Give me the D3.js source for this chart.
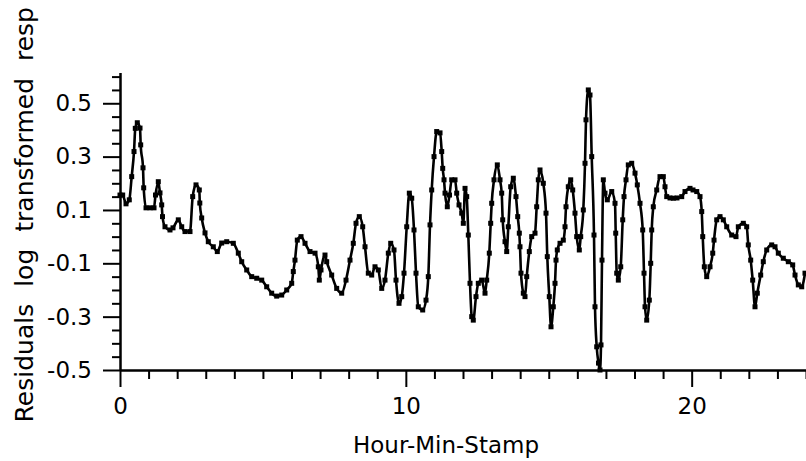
<!DOCTYPE html>
<html>
<head>
<meta charset="utf-8">
<script src="https://cdn.jsdelivr.net/npm/d3@7"></script>
<style>
  body { margin: 0; background: #fff; }
  text { font-family: "DejaVu Sans", sans-serif; fill: #000; }
</style>
</head>
<body>
<svg id="chart" width="806" height="461"></svg>
<script>
// Hour-Min-Stamp (hours) and residuals
var hours = [0,0.094,0.210,0.325,0.409,0.490,0.535,0.605,0.700,0.724,0.805,0.829,0.910,1.050,1.190,1.242,1.340,1.399,1.459,1.487,
  1.574,1.749,1.854,2.040,2.159,2.274,2.449,2.543,2.659,2.774,2.792,2.858,2.974,3.089,3.264,3.404,3.558,3.733,
  3.964,4.139,4.258,4.433,4.608,4.783,4.958,5.132,5.307,5.482,5.657,5.832,6.007,6.063,6.122,6.203,6.333,6.473,6.648,6.823,
  6.938,6.973,7.032,7.172,7.231,7.406,7.581,
  7.756,7.907,8.047,8.162,8.257,8.372,8.491,8.572,8.687,8.806,8.921,9.037,9.156,9.271,9.387,9.471,9.586,9.656,9.761,9.856,
  9.936,10.031,10.122,10.206,10.286,10.356,10.436,10.590,10.706,10.786,10.846,10.905,10.986,11.080,11.196,
  11.255,11.290,11.336,11.371,11.451,11.528,11.605,11.721,11.780,11.861,11.955,12.011,12.071,12.130,12.186,12.245,12.305,12.360,
  12.455,12.535,12.654,12.770,12.829,12.920,12.969,13.004,13.085,13.200,13.295,13.354,13.389,13.470,13.529,13.585,13.669,13.760,
  13.854,13.914,13.970,13.994,14.029,14.110,14.169,14.229,14.320,14.404,14.519,14.578,14.635,14.694,14.810,14.904,14.949,15.019,
  15.079,15.159,15.219,15.254,15.299,15.394,
  15.509,15.569,15.604,15.684,15.768,15.838,15.918,15.978,16.069,16.118,16.209,16.269,16.303,16.384,16.443,16.503,16.583,16.618,
  16.678,16.741,16.793,16.828,16.863,16.909,16.968,17.049,17.203,17.318,17.343,17.378,17.434,17.518,17.588,17.633,17.703,17.783,
  17.902,18.018,18.098,18.193,18.287,18.333,18.368,18.427,18.518,18.567,18.602,18.658,18.777,18.892,
  19.008,19.067,19.127,19.242,19.358,19.487,19.652,19.767,19.942,20.047,20.177,20.292,20.352,20.387,20.443,20.526,20.642,20.737,
  20.782,20.876,20.992,21.107,21.226,21.401,21.551,21.632,21.807,21.925,21.981,22.065,22.135,22.216,22.296,22.415,22.506,22.625,
  22.800,22.916,23.031,23.206,23.381,23.535,23.616,23.731,23.850,23.965];

var resid = [0.156,0.156,0.123,0.138,0.225,0.319,0.406,0.427,0.407,0.344,0.258,0.183,0.108,0.108,0.108,0.156,0.206,0.164,0.119,0.075,
  0.037,0.025,0.033,0.063,0.037,0.019,0.019,0.150,0.194,0.175,0.126,0.070,0.014,-0.019,-0.038,-0.056,-0.024,-0.019,
  -0.025,-0.062,-0.094,-0.125,-0.150,-0.156,-0.163,-0.188,-0.212,-0.223,-0.219,-0.200,-0.175,-0.131,-0.088,-0.013,0.000,-0.025,-0.056,-0.062,
  -0.113,-0.163,-0.125,-0.069,-0.094,-0.144,-0.194,
  -0.212,-0.163,-0.088,-0.025,0.050,0.075,0.037,-0.038,-0.137,-0.144,-0.113,-0.125,-0.194,-0.163,-0.062,-0.025,-0.050,-0.163,-0.250,-0.225,
  -0.137,0.037,0.163,0.144,0.025,-0.137,-0.263,-0.275,-0.238,-0.150,0.044,0.175,0.300,0.394,0.389,
  0.319,0.256,0.213,0.163,0.112,0.156,0.213,0.213,0.163,0.119,0.088,0.050,0.181,0.150,0.006,-0.175,-0.300,-0.313,
  -0.225,-0.175,-0.163,-0.212,-0.163,-0.062,0.050,0.125,0.213,0.269,0.213,0.163,0.063,-0.019,-0.056,0.037,0.187,0.219,
  0.150,0.075,0.013,-0.038,-0.137,-0.212,-0.225,-0.150,-0.056,0.000,0.013,0.112,0.213,0.250,0.200,0.088,-0.075,-0.225,
  -0.338,-0.263,-0.175,-0.088,-0.050,-0.025,
  -0.013,0.037,0.112,0.187,0.213,0.175,0.088,0.000,-0.050,0.000,0.100,0.275,0.438,0.550,0.531,0.300,0.006,-0.263,
  -0.413,-0.474,-0.500,-0.406,-0.088,0.213,0.163,0.138,0.169,0.125,0.013,-0.137,-0.163,-0.113,0.063,0.150,0.213,0.269,
  0.275,0.238,0.194,0.125,0.025,-0.137,-0.263,-0.313,-0.238,-0.100,0.025,0.112,0.175,0.225,
  0.225,0.187,0.150,0.145,0.144,0.145,0.150,0.169,0.181,0.175,0.169,0.150,0.094,0.000,-0.113,-0.150,-0.113,-0.062,
  -0.013,0.063,0.075,0.063,0.037,0.006,0.000,0.037,0.050,0.037,-0.031,-0.088,-0.163,-0.263,-0.212,-0.144,-0.094,-0.050,
  -0.031,-0.038,-0.062,-0.081,-0.094,-0.106,-0.144,-0.181,-0.188,-0.137];

var xMajor = [0, 10, 20];
var xMinor = [1,2,3,4,5,6,7,8,9,11,12,13,14,15,16,17,18,19,21,22,23,24];
var yMajor = [-0.5, -0.3, -0.1, 0.1, 0.3, 0.5];
var yMinor = [-0.45,-0.4,-0.35,-0.25,-0.2,-0.15,-0.05,0,0.05,0.15,0.2,0.25,0.35,0.4,0.45,0.55,0.6];

var svg = d3.select("#chart");

var x = d3.scaleLinear().domain([0, 24]).range([120, 806]);
var y = d3.scaleLinear().domain([-0.5, 0.615]).range([370, 72.6]);

function styleAxis(g) {
  g.select(".domain").attr("stroke", "#000").attr("stroke-width", 2);
  g.selectAll(".tick line").attr("stroke", "#000").attr("stroke-width", 2);
  g.selectAll(".tick text").style("font-size", "23px").attr("font-family", null);
}

// x axis
svg.append("g")
  .attr("transform", "translate(0,370)")
  .call(d3.axisBottom(x).tickValues(xMinor).tickSize(9).tickSizeOuter(0).tickFormat(""))
  .call(styleAxis);
svg.append("g")
  .attr("transform", "translate(0,370)")
  .call(d3.axisBottom(x).tickValues(xMajor).tickSize(17).tickSizeOuter(0).tickPadding(11).tickFormat(d3.format("d")))
  .call(styleAxis);

// y axis
svg.append("g")
  .attr("transform", "translate(120,0)")
  .call(d3.axisLeft(y).tickValues(yMinor).tickSize(8).tickSizeOuter(0).tickFormat(""))
  .call(styleAxis);
svg.append("g")
  .attr("transform", "translate(120,0)")
  .call(d3.axisLeft(y).tickValues(yMajor).tickSize(17).tickSizeOuter(0).tickPadding(11).tickFormat(d3.format(".1f")))
  .call(styleAxis)
  .selectAll(".tick text").text(function(d) { return d3.format(".1f")(d).replace("\u2212", "-"); });

var pts = hours.map(function(h, i) { return [h, resid[i]]; });

var line = d3.line()
  .x(function(d) { return x(d[0]); })
  .y(function(d) { return y(d[1]); })
  .curve(d3.curveMonotoneX);

svg.append("path")
  .datum(pts)
  .attr("fill", "none")
  .attr("stroke", "#000")
  .attr("stroke-width", 2.6)
  .attr("stroke-linejoin", "round")
  .attr("d", line);

svg.append("g").selectAll("rect")
  .data(pts)
  .enter().append("rect")
  .attr("x", function(d) { return x(d[0]) - 2.5; })
  .attr("y", function(d) { return y(d[1]) - 2.5; })
  .attr("width", 5)
  .attr("height", 5)
  .attr("fill", "#000");

// axis titles
svg.append("text")
  .attr("x", 446)
  .attr("y", 453)
  .attr("text-anchor", "middle")
  .style("font-size", "23px")
  .text("Hour-Min-Stamp");

svg.append("text")
  .attr("transform", "translate(33,7) rotate(-90)")
  .attr("text-anchor", "end")
  .attr("word-spacing", 9)
  .style("font-size", "25px")
  .text("Residuals log transformed resp");
</script>
</body>
</html>
